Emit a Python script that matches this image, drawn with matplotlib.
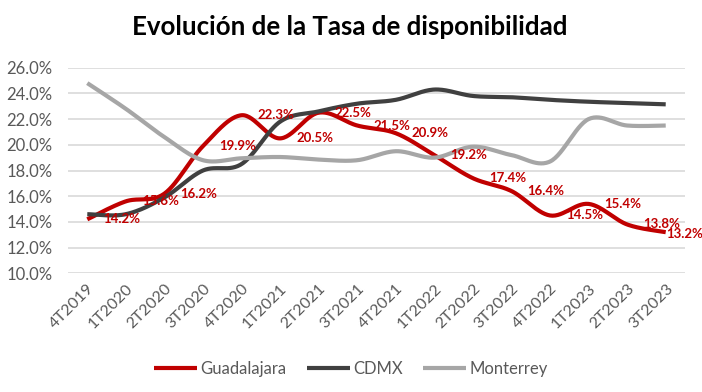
import numpy as np
import matplotlib
matplotlib.use("Agg")
import matplotlib.pyplot as plt
from matplotlib.ticker import FuncFormatter, MultipleLocator

plt.rcParams['font.family'] = ['Lato', 'DejaVu Sans']

categories = ["4T2019", "1T2020", "2T2020", "3T2020", "4T2020", "1T2021", "2T2021", "3T2021",
              "4T2021", "1T2022", "2T2022", "3T2022", "4T2022", "1T2023", "2T2023", "3T2023"]
guadalajara = [14.2, 15.6, 16.2, 19.9, 22.3, 20.5, 22.5, 21.5, 20.9, 19.2, 17.4, 16.4, 14.5, 15.4, 13.8, 13.2]
cdmx = [14.6, 14.6, 15.9, 18.0, 18.5, 21.8, 22.6, 23.2, 23.5, 24.3, 23.8, 23.7, 23.5, 23.35, 23.25, 23.15]
monterrey = [24.8, 22.8, 20.6, 18.8, 18.95, 19.05, 18.85, 18.8, 19.5, 19.0, 19.85, 19.2, 18.7, 22.0, 21.5, 21.5]

series = [("Guadalajara", guadalajara, "#C00000"),
          ("CDMX", cdmx, "#404040"),
          ("Monterrey", monterrey, "#A6A6A6")]


def smooth(x, y, n=30):
    x = np.asarray(x, float)
    y = np.asarray(y, float)
    xs, ys = [], []
    m = len(x)
    for i in range(m - 1):
        p0 = np.array([x[i], y[i]])
        p3 = np.array([x[i + 1], y[i + 1]])
        pm = np.array([x[i - 1], y[i - 1]]) if i > 0 else p0
        pp = np.array([x[i + 2], y[i + 2]]) if i + 2 < m else p3
        c1 = p0 + (p3 - pm) / 6.0
        c2 = p3 - (pp - p0) / 6.0
        t = np.linspace(0, 1, n, endpoint=(i == m - 2))[:, None]
        pts = ((1 - t) ** 3) * p0 + 3 * ((1 - t) ** 2) * t * c1 + 3 * (1 - t) * t ** 2 * c2 + t ** 3 * p3
        xs.append(pts[:, 0])
        ys.append(pts[:, 1])
    return np.concatenate(xs), np.concatenate(ys)


fig = plt.figure(figsize=(7.02, 3.92), dpi=100)
ax = fig.add_axes([68 / 702, 1 - 273.3 / 392, 617 / 702, 205.6 / 392])

x = np.arange(len(categories))
for name, vals, col in series:
    sx, sy = smooth(x, vals)
    ax.plot(sx, sy, color=col, lw=3.0, label=name, solid_capstyle='butt', zorder=3)

n = len(guadalajara)
for i, (xi, v) in enumerate(zip(x, guadalajara)):
    off = (11.5, 0) if i < n - 1 else (0, -1)
    ax.annotate(f"{v:.1f}%", (xi, v), xytext=off, textcoords='offset points',
                ha='left', va='center', color="#C00000", fontsize=9.5, fontweight='bold', zorder=5)

ax.set_xlim(-0.5, len(categories) - 0.5)
ax.set_ylim(10, 26)
ax.yaxis.set_major_locator(MultipleLocator(2))
ax.yaxis.set_major_formatter(FuncFormatter(lambda v, p: f"{v:.1f}%"))
ax.grid(axis='y', color="#D9D9D9", lw=1.2, zorder=0)
ax.set_axisbelow(True)
for s in ax.spines.values():
    s.set_visible(False)
ax.tick_params(axis='both', length=0, colors="#595959", labelsize=12)
ax.tick_params(axis='y', pad=11)
ax.set_xticks(x)
ax.set_xticklabels(categories, rotation=45, ha='right', va='top', rotation_mode='anchor', fontsize=11.5)
ax.tick_params(axis='x', pad=6)

fig.text(0.498, 0.93, "Evolución de la Tasa de disponibilidad", ha='center', va='center',
         fontsize=18.6, fontweight='bold', color='black')

leg = fig.legend(loc='center', bbox_to_anchor=(0.5, 1 - 369 / 392), ncol=3, frameon=False,
                 fontsize=12, handlelength=2.6, handletextpad=0.2, columnspacing=1.2)
for t in leg.get_texts():
    t.set_color("#595959")

fig.savefig("out.png", dpi=100)
